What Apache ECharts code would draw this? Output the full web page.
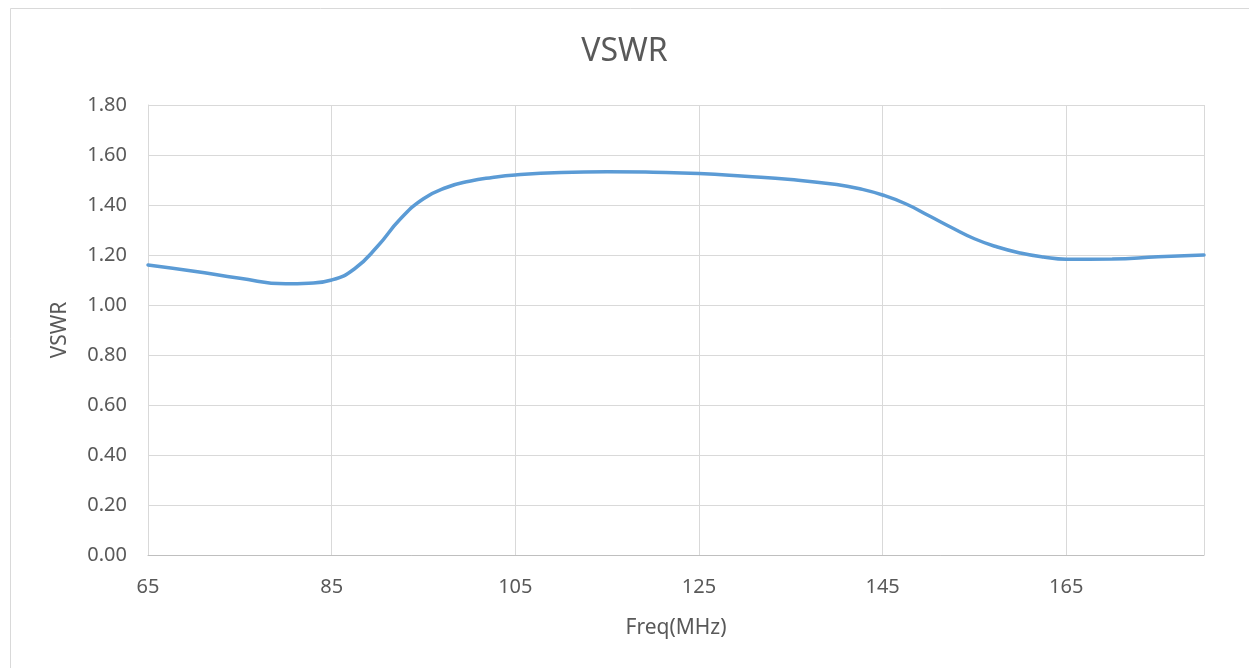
<!DOCTYPE html>
<html>
<head>
<meta charset="utf-8">
<script src="https://cdn.jsdelivr.net/npm/echarts@6/dist/echarts.min.js"></script>
<style>
html,body{margin:0;padding:0;background:#fff;}
#chart{width:1249px;height:668px;}
</style>
</head>
<body>
<div id="chart"></div>
<script>
const freq = [65, 70, 75, 80, 82.5, 85, 87.5, 90, 92.5, 95, 97.5, 100, 102.5, 105, 110, 115, 120, 125, 130, 135, 140, 142.5, 145, 147.5, 150, 152.5, 155, 157.5, 160, 162.5, 165, 170, 175, 180];
const vswr = [1.16, 1.135, 1.107, 1.085, 1.087, 1.10, 1.145, 1.235, 1.345, 1.425, 1.47, 1.495, 1.51, 1.52, 1.53, 1.533, 1.531, 1.526, 1.515, 1.502, 1.482, 1.465, 1.44, 1.405, 1.358, 1.31, 1.265, 1.232, 1.208, 1.192, 1.183, 1.184, 1.193, 1.20];
const titleText = 'VSWR';
const xName = 'Freq(MHz)';
const yName = 'VSWR';

const font = 'Noto Sans';
const chart = echarts.init(document.getElementById('chart'));
chart.setOption({
  animation: false,
  backgroundColor: '#fff',
  graphic: [{
    type: 'rect', left: 8, top: 6,
    shape: {width: 1260, height: 700},
    style: {fill: 'none', stroke: '#d9d9d9', lineWidth: 1}
  }],
  title: {
    text: titleText, left: 'center', top: 31,
    textStyle: {fontFamily: font, fontSize: 32, fontWeight: 'normal', color: '#595959'}
  },
  grid: {left: 148, right: 45, top: 105, bottom: 113, containLabel: false},
  xAxis: {
    type: 'value', min: 65, max: 180, interval: 20,
    name: xName, nameLocation: 'middle', nameGap: 63,
    nameTextStyle: {fontFamily: font, fontSize: 21, color: '#595959'},
    axisLine: {show: true, lineStyle: {color: '#bfbfbf', width: 1}},
    axisTick: {show: false},
    axisLabel: {fontFamily: font, fontSize: 20, color: '#595959', margin: 22, showMaxLabel: false},
    splitLine: {show: true, lineStyle: {color: '#d9d9d9', width: 1}}
  },
  yAxis: {
    type: 'value', min: 0, max: 1.8, interval: 0.2,
    name: yName, nameLocation: 'middle', nameGap: 77, nameRotate: 90,
    nameTextStyle: {fontFamily: font, fontSize: 21, color: '#595959'},
    axisLine: {show: true, lineStyle: {color: '#d9d9d9', width: 1}},
    axisTick: {show: false},
    axisLabel: {fontFamily: font, fontSize: 20, color: '#595959', margin: 21,
      formatter: v => v.toFixed(2)},
    splitLine: {show: true, lineStyle: {color: '#d9d9d9', width: 1}}
  },
  series: [{
    type: 'line',
    data: freq.map((f, i) => [f, vswr[i]]),
    smooth: 0.5,
    showSymbol: false,
    lineStyle: {color: '#5b9bd5', width: 3.5, cap: 'round'}
  }]
});
</script>
</body>
</html>
